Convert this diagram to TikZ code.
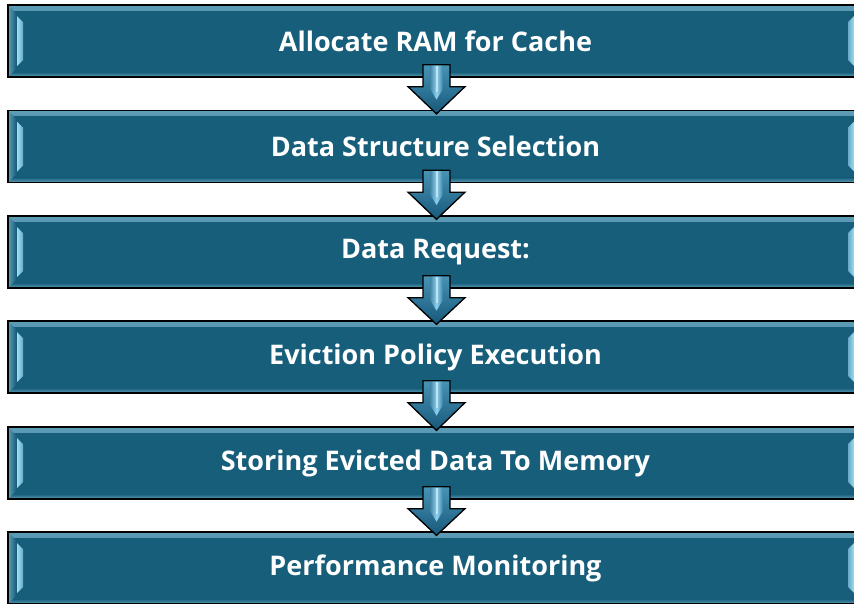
\documentclass[tikz,border=0pt]{standalone}
\usepackage{fontspec}
\setmainfont{Open Sans}
\usetikzlibrary{calc}

\definecolor{stepfill}{HTML}{175E7B}
\definecolor{rimlight}{HTML}{5E9DB7}
\definecolor{glint}{HTML}{9FDCF6}
\definecolor{arrowtop}{HTML}{4794B6}
\definecolor{arrowbottom}{HTML}{17587A}
\definecolor{shaftlight}{HTML}{8FD2F0}

\tikzset{
  x=1pt, y=-1pt,
  stage/.style={
    draw=black, line width=1.3pt, fill=stepfill,
    minimum width=855pt, minimum height=72pt, inner sep=0pt,
    text=white, font=\bfseries\fontsize{27}{30}\selectfont,
    path picture={
      % upper and lower rims
      \shade[top color=rimlight, bottom color=stepfill]
        (path picture bounding box.north west) rectangle
        ($(path picture bounding box.north east)+(0,5)$);
      \shade[top color=stepfill, bottom color=rimlight]
        ($(path picture bounding box.south west)+(0,-5)$) rectangle
        (path picture bounding box.south east);
      % side bevels with their glints
      \shade[left color=rimlight, right color=stepfill]
        (path picture bounding box.north west) --
        ($(path picture bounding box.north west)+(8,8)$) --
        ($(path picture bounding box.south west)+(8,-8)$) --
        (path picture bounding box.south west) -- cycle;
      \shade[left color=glint, right color=glint!60!stepfill]
        ($(path picture bounding box.north west)+(9,11)$) --
        ($(path picture bounding box.north west)+(15,17)$) --
        ($(path picture bounding box.south west)+(15,-17)$) --
        ($(path picture bounding box.south west)+(9,-11)$) -- cycle;
      \shade[left color=stepfill, right color=rimlight]
        (path picture bounding box.north east) --
        ($(path picture bounding box.north east)+(-8,8)$) --
        ($(path picture bounding box.south east)+(-8,-8)$) --
        (path picture bounding box.south east) -- cycle;
      \shade[right color=glint, left color=glint!60!stepfill]
        ($(path picture bounding box.north east)+(-9,11)$) --
        ($(path picture bounding box.north east)+(-15,17)$) --
        ($(path picture bounding box.south east)+(-15,-17)$) --
        ($(path picture bounding box.south east)+(-9,-11)$) -- cycle;
    }
  },
  downarrow/.style={
    draw=black, line width=1.3pt, line join=miter,
    top color=arrowtop, bottom color=arrowbottom
  },
  shaftglint/.style={left color=shaftlight!40!arrowbottom, right color=shaftlight!40!arrowbottom, middle color=shaftlight}
}

\begin{document}
\begin{tikzpicture}
  \useasboundingbox (0,0) rectangle (854,603);
  \clip (0,0) rectangle (854,603);

  \node[stage] (s1) at (435.5,41)    {Allocate RAM for Cache};
  \node[stage] (s2) at (435.5,146.5) {Data Structure Selection};
  \node[stage] (s3) at (435.5,252)   {Data Request:};
  \node[stage] (s4) at (435.5,357)   {Eviction Policy Execution};
  \node[stage] (s5) at (435.5,463)   {Storing Evicted Data To Memory};
  \node[stage] (s6) at (435.5,568)   {Performance Monitoring};

  % block arrows between consecutive stages
  \foreach \a/\b in {s1/s2, s2/s3, s3/s4, s4/s5, s5/s6} {
    \path[downarrow]
      ($(\a.south)+(1,-13)$) -- ($(\a.south)+(14.5,-13)$) --
      ($(\a.south)+(14.5,9)$) -- ($(\a.south)+(29.5,9)$) --
      ($(\b.north)+(1,4)$) --
      ($(\a.south)+(-27.5,9)$) -- ($(\a.south)+(-12.5,9)$) --
      ($(\a.south)+(-12.5,-13)$) -- cycle;
    \shade[shaftglint]
      ($(\a.south)+(-5,-12)$) -- ($(\a.south)+(7,-12)$) --
      ($(\a.south)+(7,12)$) -- ($(\a.south)+(1,22)$) --
      ($(\a.south)+(-5,12)$) -- cycle;
    \fill[white, opacity=0.45]
      ($(\a.south)+(0,-12)$) rectangle ($(\a.south)+(2,14)$);
  }
\end{tikzpicture}
\end{document}
